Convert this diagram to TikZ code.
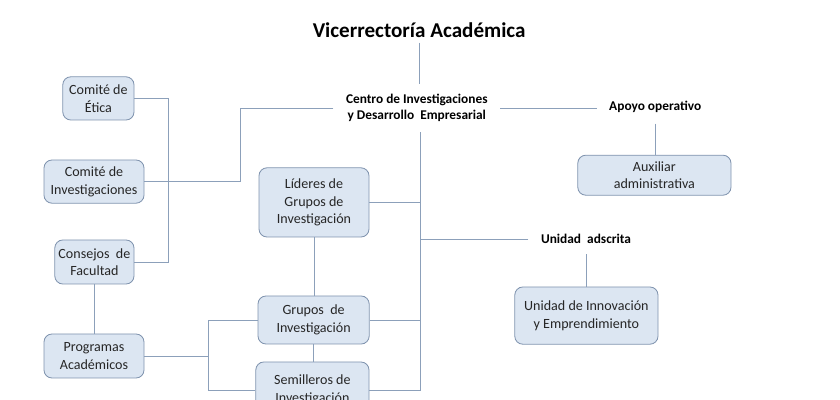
\documentclass[tikz,border=0pt]{standalone}
\usepackage{fontspec}
\setmainfont{Carlito}
\definecolor{boxfill}{HTML}{DCE6F2}
\definecolor{boxline}{HTML}{7F93AE}
\definecolor{linkline}{HTML}{8CA0BA}
\definecolor{boxtext}{HTML}{262626}
\begin{document}
\begin{tikzpicture}[thick,
                    main node/.style={rectangle,rounded corners=0.2cm,fill=boxfill,draw=boxline,line width=0.6pt,
                                      text=boxtext,align=center,font=\fontsize{10}{12.5}\selectfont,inner sep=1pt},
                    head node/.style={align=center,font=\bfseries\fontsize{9.5}{11.5}\selectfont,inner xsep=0.3cm,inner ysep=0.25cm},
                    link/.style={draw=linkline,line width=0.6pt}
                   ]
  \clip (0,0) rectangle (21,-10);

  \node[font=\bfseries\fontsize{15}{18}\selectfont] (vice) at (10.48,-0.75) {Vicerrectoría Académica};
  \node[head node] (centro) at (10.42,-2.7) {Centro de Investigaciones\\y Desarrollo \ Empresarial};
  \node[head node] (apoyo) at (16.38,-2.68) {Apoyo operativo};
  \node[head node] (adscrita) at (14.65,-5.98) {Unidad \ adscrita};

  \node[main node,minimum width=1.78cm,minimum height=1.08cm] (etica) at (2.46,-2.46) {Comité de\\Ética};
  \node[main node,minimum width=2.5cm,minimum height=1.08cm] (cinv) at (2.35,-4.54) {Comité de\\Investigaciones};
  \node[main node,minimum width=1.98cm,minimum height=1.1cm] (consejos) at (2.36,-6.55) {Consejos \ de\\Facultad};
  \node[main node,minimum width=2.5cm,minimum height=1.1cm] (programas) at (2.35,-8.9) {Programas\\Académicos};
  \node[main node,minimum width=2.75cm,minimum height=1.73cm] (lideres) at (7.85,-5.06) {Líderes de\\Grupos de\\Investigación};
  \node[main node,minimum width=2.78cm,minimum height=1.2cm] (grupos) at (7.84,-8.0) {Grupos \ de\\Investigación};
  \node[main node,minimum width=2.83cm,minimum height=1.4cm] (semilleros) at (7.81,-9.75) {Semilleros de\\Investigación};
  \node[main node,minimum width=3.83cm,minimum height=1.0cm] (auxiliar) at (16.36,-4.38) {Auxiliar\\administrativa};
  \node[main node,minimum width=3.58cm,minimum height=1.43cm] (unidad) at (14.66,-7.89) {Unidad de Innovación\\y Emprendimiento};

  \coordinate (bendA) at (6.0,0);
  \coordinate (bendB) at (5.2,0);
  \coordinate (bendC) at (4.2,0);
  \coordinate (trunk) at (10.52,0);

  \path[link]%
   (vice) -- (vice |- centro.north)
   (centro.west) -| (bendA |- cinv.east) -- (cinv.east)
   (centro.east) -- (centro.east -| apoyo.west)
   (apoyo.south) -- (apoyo.south |- auxiliar.north)
   (trunk |- centro.south) -- (trunk |- semilleros.east) -- (semilleros.east)
   (lideres.east) -- (lideres.east -| trunk)
   (grupos.east) -- (grupos.east -| trunk)
   (adscrita.west) -- (adscrita.west -| trunk)
   (adscrita.south) -- (adscrita.south |- unidad.north)
   (lideres.south) -- (lideres.south |- grupos.north)
   (grupos.south) -- (grupos.south |- semilleros.north)
   (programas.east) -- (programas.east -| bendB)
   (grupos.west) -| (bendB |- semilleros.west) -- (semilleros.west)
   (consejos.south) -- (consejos.south |- programas.north)
   (etica.east) -| (bendC |- consejos.east) -- (consejos.east);
\end{tikzpicture}
\end{document}
